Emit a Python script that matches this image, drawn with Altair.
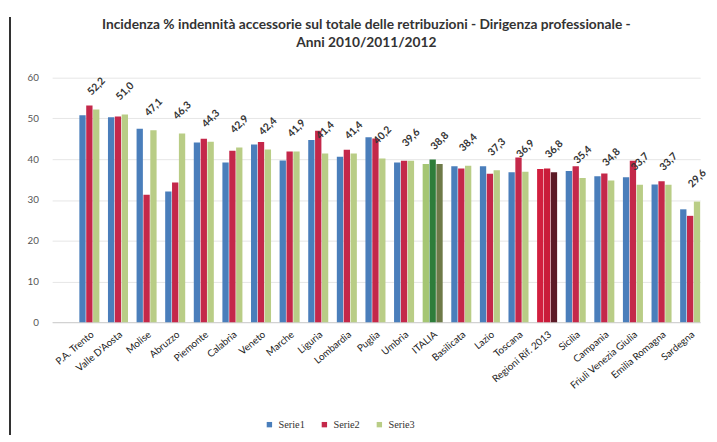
import altair as alt
import pandas as pd

categorie = ["P.A. Trento", "Valle D'Aosta", "Molise", "Abruzzo", "Piemonte", "Calabria",
             "Veneto", "Marche", "Liguria", "Lombardia", "Puglia", "Umbria", "ITALIA",
             "Basilicata", "Lazio", "Toscana", "Regioni Rif. 2013", "Sicilia", "Campania",
             "Friuli Venezia Giulia", "Emilia Romagna", "Sardegna"]

serie1 = [50.8, 50.3, 47.5, 32.1, 44.1, 39.2, 43.6, 39.7, 44.7, 40.6, 45.4, 39.2, 38.8,
          38.3, 38.3, 36.8, 37.6, 37.1, 35.8, 35.6, 33.8, 27.7]
serie2 = [53.2, 50.5, 31.3, 34.3, 45.0, 42.1, 44.2, 41.9, 47.0, 42.3, 45.1, 39.6, 39.9,
          37.7, 36.4, 40.4, 37.7, 38.3, 36.5, 39.6, 34.6, 26.1]
serie3 = [52.2, 51.0, 47.1, 46.3, 44.3, 42.9, 42.4, 41.9, 41.4, 41.4, 40.2, 39.6, 38.8,
          38.4, 37.3, 36.9, 36.8, 35.4, 34.8, 33.7, 33.7, 29.6]

nomi_serie = ["Serie1", "Serie2", "Serie3"]
chiavi = ["Serie1", "Serie2", "Serie3", "ITALIA1", "ITALIA2", "ITALIA3", "Rif1", "Rif2", "Rif3"]
colori = ["#4A7EBB", "#C4284A", "#B9CD86", "#A5C673", "#2E7D3A", "#6E7A48",
          "#D21F3F", "#C91C3A", "#5C1A26"]

rows = []
for i, c in enumerate(categorie):
    for j, (s, vals) in enumerate(zip(nomi_serie, [serie1, serie2, serie3])):
        if c == "ITALIA":
            k = f"ITALIA{j+1}"
        elif c.startswith("Regioni"):
            k = f"Rif{j+1}"
        else:
            k = s
        rows.append({"cat": c, "serie": s, "valore": vals[i], "chiave": k,
                     "etichetta": f"{vals[i]:.1f}".replace(".", ",")})
df = pd.DataFrame(rows)

W, H = 660, 249

x = alt.X("cat:N", sort=categorie, title=None,
          scale=alt.Scale(paddingInner=0.3, paddingOuter=0.475, align=1),
          axis=alt.Axis(labelAngle=320, labelAlign="right", labelBaseline="top",
                        labelFontSize=10, labelColor="#222", labelFont="Lato",
                        labelPadding=7, ticks=False, domainColor="#cccccc", labelOverlap=False))
y = alt.Y("valore:Q", title=None,
          scale=alt.Scale(domain=[0, 60], nice=False),
          axis=alt.Axis(values=[0, 10, 20, 30, 40, 50, 60], labelFontSize=10,
                        labelColor="#555", labelFont="Lato", labelPadding=14,
                        ticks=False, domain=False, gridColor="#e6e6e6"))

bars = alt.Chart(df).mark_bar().encode(
    x=x,
    y=y,
    xOffset=alt.XOffset("serie:N", sort=nomi_serie, scale=alt.Scale(paddingInner=0.08)),
    color=alt.Color("chiave:N", scale=alt.Scale(domain=chiavi, range=colori),
                    legend=alt.Legend(values=nomi_serie, title=None, orient="none",
                                      direction="horizontal", legendX=216, legendY=348,
                                      symbolType="square", symbolSize=30,
                                      labelFont="Liberation Serif", labelFontSize=10.5,
                                      labelColor="#333", columnPadding=14)),
)

labels = alt.Chart(df).transform_filter(alt.datum.serie == "Serie3").mark_text(
    align="left", baseline="middle", angle=315,
    fontSize=10.5, fontWeight="bold", font="Lato", color="#333"
).encode(x=alt.X("cat:N", sort=categorie), y="valore:Q", text="etichetta:N",
         yOffset=alt.value(-16))

bordo = alt.Chart(df).mark_rule(color="#333", strokeWidth=1.5).encode(
    x=alt.value(-43), y=alt.value(-61), y2=alt.value(364))

chart = alt.layer(bars, labels, bordo).properties(
    width=W, height=H,
    padding={"left": 1, "top": 5, "right": 0, "bottom": 0},
    title=alt.TitleParams(
        ["Incidenza % indennità accessorie sul totale delle retribuzioni - Dirigenza professionale -",
         "Anni 2010/2011/2012"],
        font="Lato", fontSize=14, fontWeight="bold", color="#333", lineHeight=18,
        offset=-33, dx=-10),
).configure_view(stroke=None)

chart.save("out.html", embed_options={"renderer": "svg", "actions": False})
